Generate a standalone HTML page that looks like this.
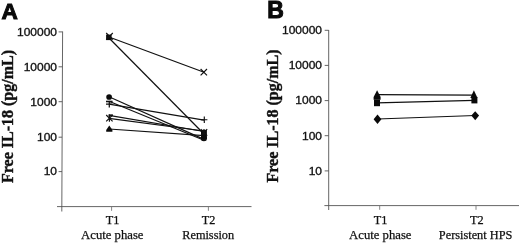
<!DOCTYPE html>
<html>
<head>
<meta charset="utf-8">
<title>Free IL-18</title>
<style>
html,body{margin:0;padding:0;background:#fff;}
body{width:520px;height:244px;overflow:hidden;}
svg{display:block;filter:blur(0.35px);}
.ax{stroke:#555;stroke-width:0.9;fill:none;}
.ln{stroke:#111;stroke-width:1.2;fill:none;}
.mk{stroke:#111;stroke-width:1.15;fill:none;}
.fl{fill:#0a0a0a;stroke:none;}
.yt{font-family:"Liberation Sans",Arial,sans-serif;font-size:12px;fill:#111;stroke:#111;stroke-width:0.35px;text-anchor:end;transform-box:fill-box;transform-origin:100% 50%;transform:scaleY(0.92);}
.xt{font-family:"Liberation Serif","Times New Roman",serif;font-size:12.3px;fill:#111;stroke:#111;stroke-width:0.25px;text-anchor:middle;}
.yl{font-family:"Liberation Serif","Times New Roman",serif;font-size:16px;font-weight:bold;fill:#111;stroke:#111;stroke-width:0.4px;text-anchor:middle;}
.pl{font-family:"Liberation Sans",Arial,sans-serif;font-size:23px;font-weight:bold;fill:#0a0a0a;stroke:#0a0a0a;stroke-width:1px;stroke-linejoin:miter;}
</style>
</head>
<body>
<svg width="520" height="244" viewBox="0 0 520 244">
<rect width="520" height="244" fill="#fff"/>

<!-- Panel A -->
<text class="pl" x="1.5" y="18.5" style="font-size:22.6px">A</text>
<g class="ax">
<line x1="62.6" y1="31.5" x2="61.8" y2="211.5"/>
<line x1="57" y1="206.6" x2="251.5" y2="206.6"/>
<line x1="58.6" y1="31.9" x2="62.6" y2="31.9"/>
<line x1="58.6" y1="66.8" x2="62.4" y2="66.8"/>
<line x1="58.6" y1="101.7" x2="62.3" y2="101.7"/>
<line x1="58.6" y1="137.2" x2="62.1" y2="137.2"/>
<line x1="58.6" y1="171.6" x2="62" y2="171.6"/>
<line x1="111.6" y1="206.6" x2="111.6" y2="210.8" style="stroke:#777"/>
<line x1="208.4" y1="206.6" x2="208.4" y2="210.8" style="stroke:#777"/>
</g>
<text class="yt" x="57" y="35.9">100000</text>
<text class="yt" x="57" y="71">10000</text>
<text class="yt" x="57" y="106">1000</text>
<text class="yt" x="57" y="141.4">100</text>
<text class="yt" x="57" y="175.8">10</text>
<text class="yl" transform="translate(13,116.5) rotate(-90)">Free IL-18 (pg/mL)</text>
<text class="xt" x="112.5" y="224.4">T1</text>
<text class="xt" x="112.3" y="239.4" style="font-size:12.7px">Acute phase</text>
<text class="xt" x="208.6" y="224.4">T2</text>
<text class="xt" x="208.2" y="239.2">Remission</text>

<g class="ln">
<line x1="109" y1="38" x2="204" y2="134"/>
<line x1="109" y1="37" x2="204" y2="72.2"/>
<line x1="109" y1="96.8" x2="204" y2="139.4"/>
<line x1="109" y1="101.2" x2="204" y2="140.3"/>
<line x1="109" y1="104.2" x2="204" y2="120.2"/>
<line x1="109" y1="115.3" x2="204" y2="131.5"/>
<line x1="109" y1="118.3" x2="204" y2="131"/>
<line x1="109" y1="129" x2="204" y2="135.7"/>
</g>
<!-- markers T1 -->
<rect class="fl" x="106.1" y="34.6" width="5.5" height="5.5"/>
<path class="mk" d="M106.2 33 l6.6 6.6 M112.8 33 l-6.6 6.6"/>
<circle class="fl" cx="109.1" cy="97" r="2.85"/>
<path class="mk" d="M106 101.5 h6.6" style="stroke-width:1.6"/>
<path class="mk" d="M106 104 h6.4 M109.3 101 v6.6" style="stroke-width:1.25"/>
<path class="mk" d="M108.6 115.2 h4.2" style="stroke-width:1.7"/>
<path class="mk" d="M106.2 115 l6.4 6.4 M112.6 115 l-6.4 6.4 M109.4 114.6 v7.2 " style="stroke-width:1.15"/>
<path class="fl" d="M109.3 125.5 l3.1 4.4 v1.9 h-6.2 v-1.9 z"/>
<!-- markers T2 -->
<path class="mk" d="M200.6 69 l6.4 6.4 M207 69 l-6.4 6.4"/>
<path class="mk" d="M201 119.7 h6.4 M204.3 116.4 v6.6"/>
<rect class="fl" x="201" y="129.9" width="5.9" height="8.6"/>
<path class="mk" d="M200.8 129.2 l6.4 6.4 M207.2 129.2 l-6.4 6.4 M204 129 v7"/>
<circle class="fl" cx="203.9" cy="138.2" r="3.05"/>
<path class="mk" d="M201.6 140 h4.6" style="stroke-width:1.2"/>

<!-- Panel B -->
<text class="pl" x="267.3" y="17.8">B</text>
<g class="ax">
<line x1="328.7" y1="30" x2="328.7" y2="210"/>
<line x1="324.4" y1="205.6" x2="519" y2="205.6"/>
<line x1="324.7" y1="30.3" x2="328.7" y2="30.3"/>
<line x1="324.7" y1="65.4" x2="328.7" y2="65.4"/>
<line x1="324.7" y1="100.6" x2="328.7" y2="100.6"/>
<line x1="324.7" y1="135.7" x2="328.7" y2="135.7"/>
<line x1="324.7" y1="170.9" x2="328.7" y2="170.9"/>
<line x1="379.7" y1="205.6" x2="379.7" y2="209.8" style="stroke:#777"/>
<line x1="476" y1="205.6" x2="476" y2="209.8" style="stroke:#777"/>
</g>
<text class="yt" x="322" y="34.8">100000</text>
<text class="yt" x="322" y="69.6">10000</text>
<text class="yt" x="322" y="104.8">1000</text>
<text class="yt" x="322" y="139.9">100</text>
<text class="yt" x="322" y="175.1">10</text>
<text class="yl" transform="translate(278.4,116) rotate(-90)">Free IL-18 (pg/mL)</text>
<text class="xt" x="380.7" y="224.3">T1</text>
<text class="xt" x="380.3" y="239.3" style="font-size:12.7px">Acute phase</text>
<text class="xt" x="476.8" y="224.3">T2</text>
<text class="xt" x="475.6" y="239.1">Persistent HPS</text>

<g class="ln">
<line x1="377" y1="94.7" x2="474" y2="95.2"/>
<line x1="377" y1="102.9" x2="474.4" y2="100.4"/>
<line x1="377.5" y1="119" x2="475.2" y2="115.5"/>
</g>
<path class="fl" d="M377.1 90.3 l3.5 6.6 v2.8 h-7 v-2.8 z"/>
<rect class="fl" x="374" y="99.6" width="6" height="6.6"/>
<path class="fl" d="M377.5 114.6 l3.9 4.6 l-3.9 4.8 l-3.9 -4.8 z"/>
<path class="fl" d="M473.9 90.3 l3.6 7.6 h-7.2 z"/>
<rect class="fl" x="471.4" y="96.9" width="6" height="6.5"/>
<path class="fl" d="M475.2 111.2 l3.9 4.4 l-3.9 4.6 l-3.9 -4.6 z"/>
</svg>
</body>
</html>
